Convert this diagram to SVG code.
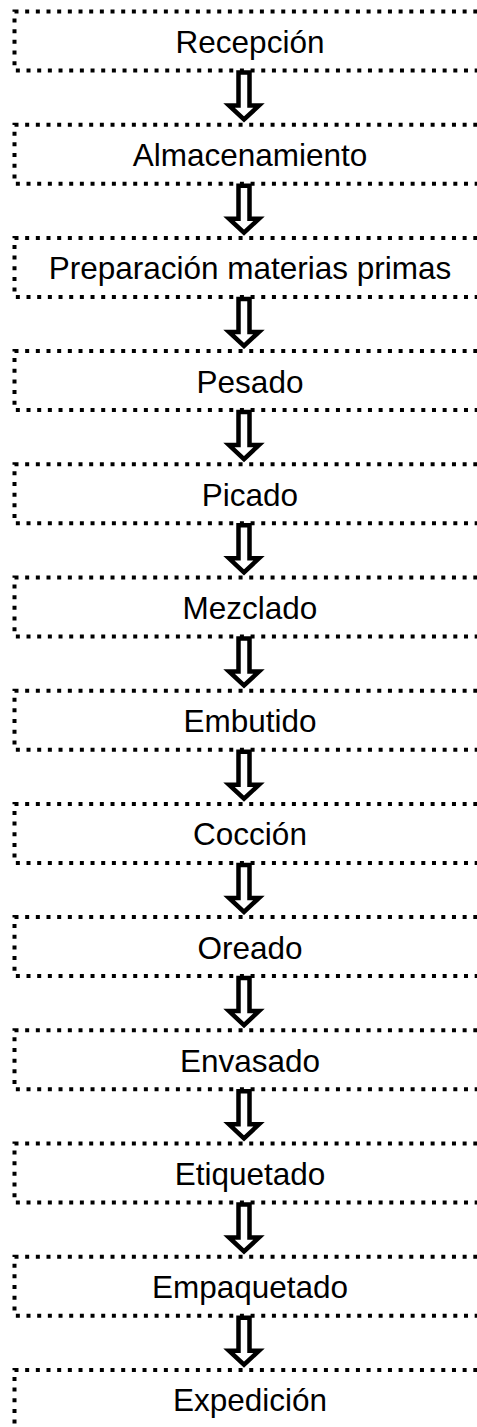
<svg xmlns="http://www.w3.org/2000/svg" width="477" height="1427" viewBox="0 0 477 1427">
<style>
.box{fill:none;stroke:#000;stroke-width:4;stroke-dasharray:4 6.67}
.lbl{font-family:"Liberation Sans",Arial,sans-serif;font-size:31.5px;fill:#000;text-anchor:middle}
.arr{fill:#fff;stroke:#000;stroke-width:4.5;stroke-linejoin:miter;stroke-miterlimit:10}
</style>
<defs>
<path id="a" class="arr" d="M238.5,0 H249.5 V33 H259 L244,47 L229,33 H238.5 Z"/>
</defs>
<rect width="477" height="1427" fill="#fff"/>
<g id="n1"><rect class="box" x="14.5" y="11.5" width="480" height="59"/><text class="lbl" x="250" y="53">Recepción</text></g>
<g id="n2"><rect class="box" x="14.5" y="124.7" width="480" height="59"/><text class="lbl" x="250" y="166.2">Almacenamiento</text></g>
<g id="n3"><rect class="box" x="14.5" y="237.9" width="480" height="59"/><text class="lbl" x="250" y="279.4">Preparación materias primas</text></g>
<g id="n4"><rect class="box" x="14.5" y="351.1" width="480" height="59"/><text class="lbl" x="250" y="392.6">Pesado</text></g>
<g id="n5"><rect class="box" x="14.5" y="464.3" width="480" height="59"/><text class="lbl" x="250" y="505.8">Picado</text></g>
<g id="n6"><rect class="box" x="14.5" y="577.5" width="480" height="59"/><text class="lbl" x="250" y="619">Mezclado</text></g>
<g id="n7"><rect class="box" x="14.5" y="690.7" width="480" height="59"/><text class="lbl" x="250" y="732.2">Embutido</text></g>
<g id="n8"><rect class="box" x="14.5" y="803.9" width="480" height="59"/><text class="lbl" x="250" y="845.4">Cocción</text></g>
<g id="n9"><rect class="box" x="14.5" y="917.1" width="480" height="59"/><text class="lbl" x="250" y="958.6">Oreado</text></g>
<g id="n10"><rect class="box" x="14.5" y="1030.3" width="480" height="59"/><text class="lbl" x="250" y="1071.8">Envasado</text></g>
<g id="n11"><rect class="box" x="14.5" y="1143.5" width="480" height="59"/><text class="lbl" x="250" y="1185">Etiquetado</text></g>
<g id="n12"><rect class="box" x="14.5" y="1256.7" width="480" height="59"/><text class="lbl" x="250" y="1298.2">Empaquetado</text></g>
<g id="n13"><rect class="box" x="14.5" y="1369.9" width="480" height="59"/><text class="lbl" x="250" y="1411.4">Expedición</text></g>
<g id="connectors">
<use href="#a" y="72.5"/>
<use href="#a" y="185.7"/>
<use href="#a" y="298.9"/>
<use href="#a" y="412.1"/>
<use href="#a" y="525.3"/>
<use href="#a" y="638.5"/>
<use href="#a" y="751.7"/>
<use href="#a" y="864.9"/>
<use href="#a" y="978.1"/>
<use href="#a" y="1091.3"/>
<use href="#a" y="1204.5"/>
<use href="#a" y="1317.7"/>
</g>
</svg>
